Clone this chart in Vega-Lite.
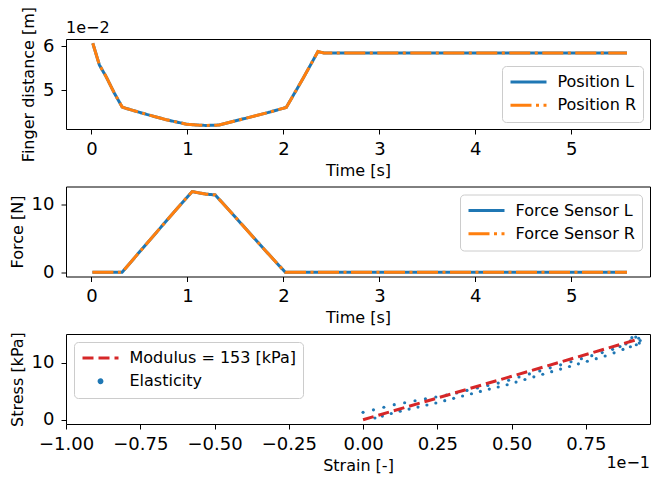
{
  "$schema": "https://vega.github.io/schema/vega-lite/v6.json",
  "background": "white",
  "padding": {"left": 8, "top": 5, "right": 0, "bottom": 0},
  "bounds": "flush",
  "spacing": 57.5,
  "resolve": {"scale": {"color": "independent", "strokeDash": "independent", "x": "independent", "y": "independent"}, "legend": {"color": "independent", "strokeDash": "independent"}},
  "datasets": {
    "pos": [
      {"t": 0.014, "v": 0.0607, "s": "Position L"},
      {"t": 0.083, "v": 0.05575, "s": "Position L"},
      {"t": 0.153, "v": 0.0531, "s": "Position L"},
      {"t": 0.24, "v": 0.0493, "s": "Position L"},
      {"t": 0.32, "v": 0.0462, "s": "Position L"},
      {"t": 0.36, "v": 0.0459, "s": "Position L"},
      {"t": 0.53, "v": 0.0448, "s": "Position L"},
      {"t": 0.78, "v": 0.0433, "s": "Position L"},
      {"t": 0.99, "v": 0.0423, "s": "Position L"},
      {"t": 1.1, "v": 0.0421, "s": "Position L"},
      {"t": 1.2, "v": 0.0420, "s": "Position L"},
      {"t": 1.33, "v": 0.0421, "s": "Position L"},
      {"t": 1.6, "v": 0.0436, "s": "Position L"},
      {"t": 1.85, "v": 0.0450, "s": "Position L"},
      {"t": 2.03, "v": 0.0461, "s": "Position L"},
      {"t": 2.2, "v": 0.0525, "s": "Position L"},
      {"t": 2.36, "v": 0.0588, "s": "Position L"},
      {"t": 2.42, "v": 0.0585, "s": "Position L"},
      {"t": 5.58, "v": 0.0585, "s": "Position L"},
      {"t": 0.014, "v": 0.0607, "s": "Position R"},
      {"t": 0.083, "v": 0.05575, "s": "Position R"},
      {"t": 0.153, "v": 0.0531, "s": "Position R"},
      {"t": 0.24, "v": 0.0493, "s": "Position R"},
      {"t": 0.32, "v": 0.0462, "s": "Position R"},
      {"t": 0.36, "v": 0.0459, "s": "Position R"},
      {"t": 0.53, "v": 0.0448, "s": "Position R"},
      {"t": 0.78, "v": 0.0433, "s": "Position R"},
      {"t": 0.99, "v": 0.0423, "s": "Position R"},
      {"t": 1.1, "v": 0.0421, "s": "Position R"},
      {"t": 1.2, "v": 0.0420, "s": "Position R"},
      {"t": 1.33, "v": 0.0421, "s": "Position R"},
      {"t": 1.6, "v": 0.0436, "s": "Position R"},
      {"t": 1.85, "v": 0.0450, "s": "Position R"},
      {"t": 2.03, "v": 0.0461, "s": "Position R"},
      {"t": 2.2, "v": 0.0525, "s": "Position R"},
      {"t": 2.36, "v": 0.0588, "s": "Position R"},
      {"t": 2.42, "v": 0.0585, "s": "Position R"},
      {"t": 5.58, "v": 0.0585, "s": "Position R"}
    ],
    "force": [
      {"t": 0.01, "f": 0, "s": "Force Sensor L"},
      {"t": 0.32, "f": 0, "s": "Force Sensor L"},
      {"t": 0.5, "f": 3.0, "s": "Force Sensor L"},
      {"t": 0.7, "f": 6.3, "s": "Force Sensor L"},
      {"t": 0.9, "f": 9.6, "s": "Force Sensor L"},
      {"t": 1.05, "f": 12.0, "s": "Force Sensor L"},
      {"t": 1.1, "f": 11.85, "s": "Force Sensor L"},
      {"t": 1.2, "f": 11.6, "s": "Force Sensor L"},
      {"t": 1.29, "f": 11.5, "s": "Force Sensor L"},
      {"t": 1.5, "f": 8.2, "s": "Force Sensor L"},
      {"t": 1.7, "f": 5.0, "s": "Force Sensor L"},
      {"t": 1.9, "f": 1.85, "s": "Force Sensor L"},
      {"t": 2.02, "f": 0, "s": "Force Sensor L"},
      {"t": 5.58, "f": 0, "s": "Force Sensor L"},
      {"t": 0.01, "f": 0, "s": "Force Sensor R"},
      {"t": 0.32, "f": 0, "s": "Force Sensor R"},
      {"t": 0.5, "f": 3.0, "s": "Force Sensor R"},
      {"t": 0.7, "f": 6.3, "s": "Force Sensor R"},
      {"t": 0.9, "f": 9.6, "s": "Force Sensor R"},
      {"t": 1.05, "f": 12.0, "s": "Force Sensor R"},
      {"t": 1.1, "f": 11.85, "s": "Force Sensor R"},
      {"t": 1.2, "f": 11.6, "s": "Force Sensor R"},
      {"t": 1.29, "f": 11.5, "s": "Force Sensor R"},
      {"t": 1.5, "f": 8.2, "s": "Force Sensor R"},
      {"t": 1.7, "f": 5.0, "s": "Force Sensor R"},
      {"t": 1.9, "f": 1.85, "s": "Force Sensor R"},
      {"t": 2.02, "f": 0, "s": "Force Sensor R"},
      {"t": 5.58, "f": 0, "s": "Force Sensor R"}
    ],
    "modulus": [
      {"strain": 0.0, "stress": 0.0, "series": "Modulus = 153 [kPa]"},
      {"strain": 0.0928, "stress": 14.2, "series": "Modulus = 153 [kPa]"}
    ],
    "elastic": [
      {"strain": 0.0000, "stress": 1.30, "series": "Elasticity"},
      {"strain": 0.0035, "stress": 1.75, "series": "Elasticity"},
      {"strain": 0.0070, "stress": 2.20, "series": "Elasticity"},
      {"strain": 0.0105, "stress": 2.65, "series": "Elasticity"},
      {"strain": 0.0140, "stress": 3.00, "series": "Elasticity"},
      {"strain": 0.0175, "stress": 3.35, "series": "Elasticity"},
      {"strain": 0.0210, "stress": 3.68, "series": "Elasticity"},
      {"strain": 0.0245, "stress": 4.00, "series": "Elasticity"},
      {"strain": 0.0280, "stress": 4.33, "series": "Elasticity"},
      {"strain": 0.0315, "stress": 4.72, "series": "Elasticity"},
      {"strain": 0.0350, "stress": 5.16, "series": "Elasticity"},
      {"strain": 0.0385, "stress": 5.59, "series": "Elasticity"},
      {"strain": 0.0420, "stress": 6.03, "series": "Elasticity"},
      {"strain": 0.0455, "stress": 6.46, "series": "Elasticity"},
      {"strain": 0.0490, "stress": 6.95, "series": "Elasticity"},
      {"strain": 0.0525, "stress": 7.53, "series": "Elasticity"},
      {"strain": 0.0560, "stress": 8.07, "series": "Elasticity"},
      {"strain": 0.0595, "stress": 8.60, "series": "Elasticity"},
      {"strain": 0.0630, "stress": 9.14, "series": "Elasticity"},
      {"strain": 0.0665, "stress": 9.67, "series": "Elasticity"},
      {"strain": 0.0700, "stress": 10.21, "series": "Elasticity"},
      {"strain": 0.0735, "stress": 10.75, "series": "Elasticity"},
      {"strain": 0.0770, "stress": 11.28, "series": "Elasticity"},
      {"strain": 0.0805, "stress": 11.82, "series": "Elasticity"},
      {"strain": 0.0840, "stress": 12.40, "series": "Elasticity"},
      {"strain": 0.0865, "stress": 12.88, "series": "Elasticity"},
      {"strain": 0.0885, "stress": 13.34, "series": "Elasticity"},
      {"strain": 0.0900, "stress": 13.90, "series": "Elasticity"},
      {"strain": 0.0905, "stress": 14.45, "series": "Elasticity"},
      {"strain": 0.0918, "stress": 14.55, "series": "Elasticity"},
      {"strain": 0.0928, "stress": 14.35, "series": "Elasticity"},
      {"strain": 0.0933, "stress": 13.95, "series": "Elasticity"},
      {"strain": 0.0930, "stress": 13.50, "series": "Elasticity"},
      {"strain": 0.0920, "stress": 13.20, "series": "Elasticity"},
      {"strain": 0.0900, "stress": 12.85, "series": "Elasticity"},
      {"strain": 0.0875, "stress": 12.39, "series": "Elasticity"},
      {"strain": 0.0845, "stress": 11.78, "series": "Elasticity"},
      {"strain": 0.0815, "stress": 11.22, "series": "Elasticity"},
      {"strain": 0.0785, "stress": 10.76, "series": "Elasticity"},
      {"strain": 0.0755, "stress": 10.30, "series": "Elasticity"},
      {"strain": 0.0725, "stress": 9.84, "series": "Elasticity"},
      {"strain": 0.0695, "stress": 9.38, "series": "Elasticity"},
      {"strain": 0.0665, "stress": 8.92, "series": "Elasticity"},
      {"strain": 0.0635, "stress": 8.47, "series": "Elasticity"},
      {"strain": 0.0605, "stress": 8.01, "series": "Elasticity"},
      {"strain": 0.0575, "stress": 7.55, "series": "Elasticity"},
      {"strain": 0.0545, "stress": 7.09, "series": "Elasticity"},
      {"strain": 0.0515, "stress": 6.63, "series": "Elasticity"},
      {"strain": 0.0485, "stress": 6.17, "series": "Elasticity"},
      {"strain": 0.0455, "stress": 5.76, "series": "Elasticity"},
      {"strain": 0.0425, "stress": 5.40, "series": "Elasticity"},
      {"strain": 0.0395, "stress": 4.99, "series": "Elasticity"},
      {"strain": 0.0365, "stress": 4.58, "series": "Elasticity"},
      {"strain": 0.0335, "stress": 4.18, "series": "Elasticity"},
      {"strain": 0.0305, "stress": 3.77, "series": "Elasticity"},
      {"strain": 0.0275, "stress": 3.36, "series": "Elasticity"},
      {"strain": 0.0245, "stress": 2.95, "series": "Elasticity"},
      {"strain": 0.0215, "stress": 2.59, "series": "Elasticity"},
      {"strain": 0.0185, "stress": 2.23, "series": "Elasticity"},
      {"strain": 0.0155, "stress": 1.87, "series": "Elasticity"},
      {"strain": 0.0125, "stress": 1.51, "series": "Elasticity"},
      {"strain": 0.0095, "stress": 1.10, "series": "Elasticity"},
      {"strain": 0.0065, "stress": 0.64, "series": "Elasticity"},
      {"strain": 0.0040, "stress": 0.31, "series": "Elasticity"}
    ]
  },
  "vconcat": [
    {
      "width": 584,
      "height": 90,
      "title": {"text": "1e−2", "anchor": "start", "frame": "group", "fontSize": 16, "fontWeight": "normal", "offset": -30, "color": "black"},
      "data": {"name": "pos"},
      "mark": {"type": "line", "strokeWidth": 3, "strokeCap": "butt"},
      "encoding": {
        "x": {"field": "t", "type": "quantitative", "scale": {"domain": [-0.265, 5.82], "nice": false, "zero": false}, "axis": {"values": [0, 1, 2, 3, 4, 5], "format": "d", "title": "Time [s]"}},
        "y": {"field": "v", "type": "quantitative", "scale": {"domain": [0.0412, 0.06166], "nice": false, "zero": false}, "axis": {"values": [0.05, 0.06], "labelExpr": "format(datum.value*100, 'd')", "title": "Finger distance [m]"}},
        "color": {"field": "s", "type": "nominal", "scale": {"domain": ["Position L", "Position R"], "range": ["#1f77b4", "#ff7f0e"]}, "legend": {"title": null, "orient": "bottom-right", "offset": 7}},
        "strokeDash": {"field": "s", "type": "nominal", "scale": {"domain": ["Position L", "Position R"], "range": [[1, 0], [21, 4.5, 3, 4.5]]}, "legend": {"title": null, "orient": "bottom-right", "offset": 7}}
      }
    },
    {
      "width": 584,
      "height": 90,
      "data": {"name": "force"},
      "mark": {"type": "line", "strokeWidth": 3, "strokeCap": "butt"},
      "encoding": {
        "x": {"field": "t", "type": "quantitative", "scale": {"domain": [-0.265, 5.82], "nice": false, "zero": false}, "axis": {"values": [0, 1, 2, 3, 4, 5], "format": "d", "title": "Time [s]"}},
        "y": {"field": "f", "type": "quantitative", "scale": {"domain": [-0.63, 12.75], "nice": false, "zero": false}, "axis": {"values": [0, 10], "format": "d", "title": "Force [N]"}},
        "color": {"field": "s", "type": "nominal", "scale": {"domain": ["Force Sensor L", "Force Sensor R"], "range": ["#1f77b4", "#ff7f0e"]}, "legend": {"title": null, "orient": "top-right", "offset": 8}},
        "strokeDash": {"field": "s", "type": "nominal", "scale": {"domain": ["Force Sensor L", "Force Sensor R"], "range": [[1, 0], [21, 4.5, 3, 4.5]]}, "legend": {"title": null, "orient": "top-right", "offset": 8}}
      }
    },
    {
      "width": 584,
      "height": 90,
      "title": {"text": "1e−1", "orient": "bottom", "anchor": "end", "frame": "group", "fontSize": 16, "fontWeight": "normal", "offset": -18, "color": "black"},
      "encoding": {
        "x": {"field": "strain", "type": "quantitative", "scale": {"domain": [-0.1, 0.0966], "nice": false, "zero": false}, "axis": {"values": [-0.1, -0.075, -0.05, -0.025, 0, 0.025, 0.05, 0.075], "labelExpr": "format(datum.value*10, '.2f')", "title": "Strain [-]"}},
        "y": {"field": "stress", "type": "quantitative", "scale": {"domain": [-0.75, 15.1], "nice": false, "zero": false}, "axis": {"values": [0, 10], "format": "d", "title": "Stress [kPa]"}},
        "color": {"field": "series", "type": "nominal", "scale": {"domain": ["Modulus = 153 [kPa]", "Elasticity"], "range": ["#d62728", "#1f77b4"]}, "legend": {"title": null, "orient": "top-left", "offset": 8,
          "encode": {"symbols": {"update": {
            "shape": {"signal": "datum.value === 'Elasticity' ? 'M-0.08,0a0.08,0.08 0 1,0 0.16,0a0.08,0.08 0 1,0 -0.16,0' : 'stroke'"},
            "strokeDash": {"signal": "datum.value === 'Elasticity' ? [1,0] : [11,5]"},
            "fill": {"signal": "datum.value === 'Elasticity' ? '#1f77b4' : 'transparent'"},
            "stroke": {"signal": "datum.value === 'Elasticity' ? 'transparent' : '#d62728'"}
          }}}}}
      },
      "layer": [
        {"data": {"name": "elastic"}, "mark": {"type": "circle", "size": 10, "opacity": 1}},
        {"data": {"name": "modulus"}, "mark": {"type": "line", "strokeWidth": 3, "strokeDash": [11, 5], "strokeCap": "butt"}}
      ]
    }
  ],
  "config": {
    "font": "DejaVu Sans",
    "view": {"stroke": "black", "strokeWidth": 1},
    "title": {"font": "DejaVu Sans", "color": "black"},
    "axis": {"grid": false, "domain": false, "tickColor": "black", "tickSize": 5, "tickWidth": 1, "labelFont": "DejaVu Sans", "labelFontSize": 18, "labelColor": "black", "titleFont": "DejaVu Sans", "titleFontSize": 16, "titleFontWeight": "normal", "titleColor": "black", "labelFlush": false, "labelOverlap": false},
    "axisX": {"labelPadding": 6, "titlePadding": 4},
    "axisY": {"labelPadding": 7, "titlePadding": 6},
    "legend": {"labelFont": "DejaVu Sans", "labelFontSize": 16, "labelColor": "black", "labelLimit": 300, "symbolType": "stroke", "symbolSize": 1296, "symbolStrokeWidth": 3, "clipHeight": 18, "rowPadding": 5.3, "labelOffset": 9.5, "padding": 7, "strokeColor": "#cccccc", "fillColor": "rgba(255,255,255,0.8)", "cornerRadius": 4, "symbolOffset": 0}
  }
}
